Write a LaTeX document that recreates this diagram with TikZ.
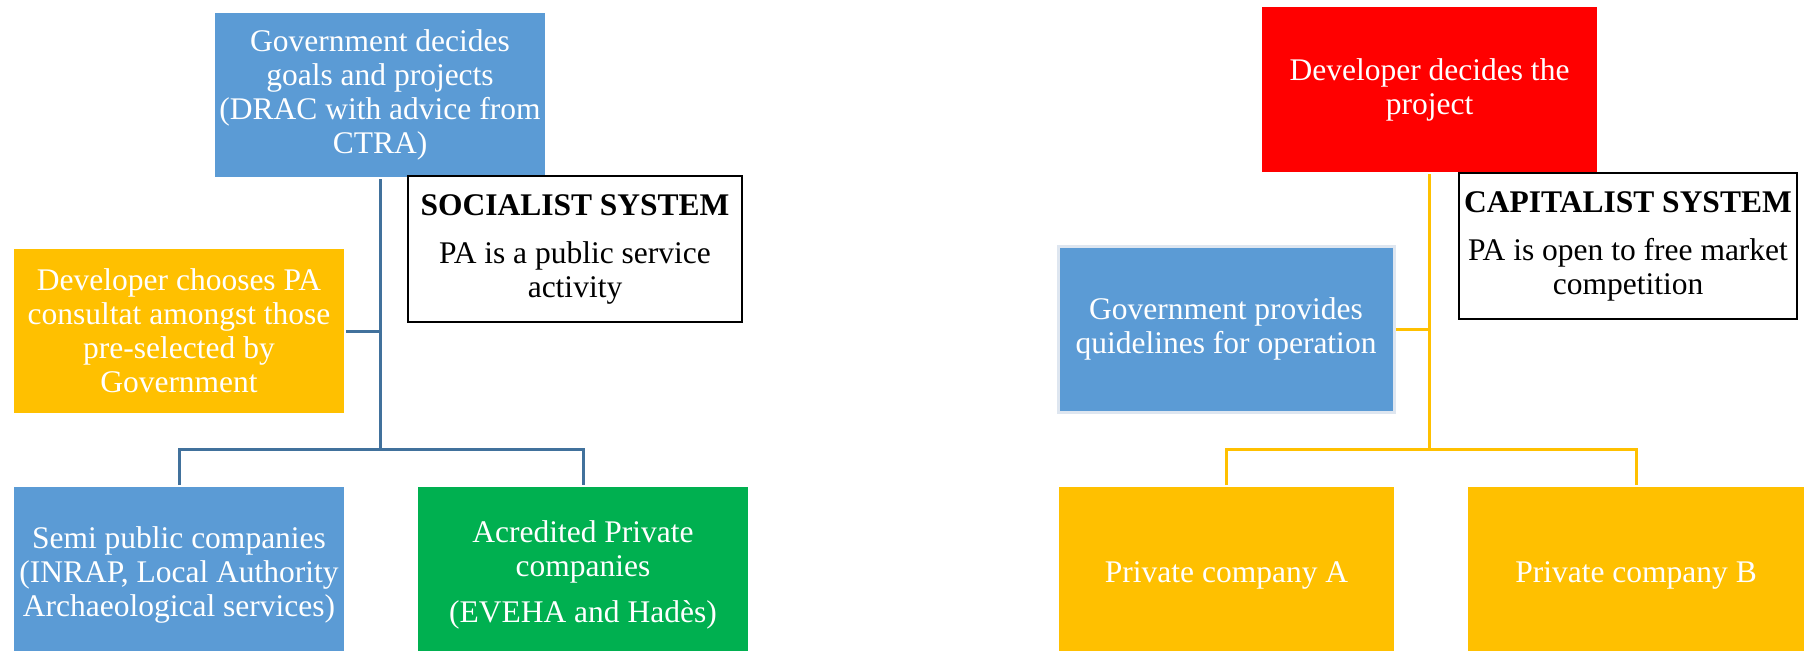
\documentclass[tikz,border=0pt]{standalone}
\usepackage{fontspec}
\setmainfont{Liberation Serif}
\definecolor{boxblue}{RGB}{91, 155, 213}
\definecolor{boxgold}{RGB}{255, 192, 0}
\definecolor{boxgreen}{RGB}{0, 176, 80}
\definecolor{boxred}{RGB}{255, 0, 0}
\definecolor{lineblue}{RGB}{65, 113, 156}
\definecolor{edgepale}{RGB}{222, 230, 240}
\usepackage{tikz}
\usetikzlibrary{positioning, calc}

\tikzset{
  orgbox/.style={rectangle, inner sep=0pt, outer sep=1pt, align=center, text=white,
    font=\fontsize{15.75}{17}\selectfont, minimum width=165pt, minimum height=82pt},
  sysbox/.style={orgbox, text=black, draw=black, line width=1.2pt, fill=white,
    minimum width=167pt, minimum height=73pt},
  blueline/.style={draw=lineblue, line width=1.5pt},
  goldline/.style={draw=boxgold, line width=1.5pt}
}

\begin{document}
\begin{tikzpicture}[x=0.5pt, y=-0.5pt]
  \useasboundingbox (0,0) rectangle (1811,650);

  % socialist side
  \node[orgbox, fill=boxblue] (govdecides) at (380,95)
    {Government decides\\goals and projects\\(DRAC with advice from\\CTRA)};
  \node[sysbox] (socialist) at (575,249)
    {\textbf{SOCIALIST SYSTEM}\\[7pt]PA is a public service\\activity};
  \node[orgbox, fill=boxgold] (devchooses) at (179,331)
    {Developer chooses PA\\consultat amongst those\\pre-selected by\\Government};
  \node[orgbox, fill=boxblue, minimum height=88pt] (semipublic) at (179,575)
    {Semi public companies\\(INRAP, Local Authority\\Archaeological services)};
  \node[orgbox, fill=boxgreen, minimum height=88pt] (acredited) at (583,575)
    {Acredited Private\\companies\\[6pt](EVEHA and Hadès)};

  \coordinate (leftbar) at ($(govdecides.south |- 0,449)$);
  \draw[blueline] (govdecides.south) -- (leftbar);
  \draw[blueline] (devchooses.east) -- (devchooses.east -| govdecides.south);
  \draw[blueline] (semipublic.north) |- (leftbar) -| (acredited.north);

  % capitalist side
  \node[orgbox, fill=boxred, minimum width=167.5pt, minimum height=82.5pt] (devdecides) at (1429.5,89.5)
    {Developer decides the\\project};
  \node[sysbox, minimum width=169pt] (capitalist) at (1628,246)
    {\textbf{CAPITALIST SYSTEM}\\[7pt]PA is open to free market\\competition};
  \node[orgbox, fill=boxblue, draw=edgepale, line width=1.5pt, minimum width=168pt, minimum height=83pt] (govprovides) at (1226,329)
    {Government provides\\quidelines for operation};
  \node[orgbox, fill=boxgold, minimum width=167.5pt, minimum height=88pt] (companya) at (1226.5,575)
    {Private company A};
  \node[orgbox, fill=boxgold, minimum width=168pt, minimum height=88pt] (companyb) at (1636,575)
    {Private company B};

  \coordinate (rightbar) at ($(devdecides.south |- 0,449)$);
  \draw[goldline] (devdecides.south) -- (rightbar);
  \draw[goldline] (govprovides.east) -- (govprovides.east -| devdecides.south);
  \draw[goldline] (companya.north) |- (rightbar) -| (companyb.north);
\end{tikzpicture}
\end{document}
